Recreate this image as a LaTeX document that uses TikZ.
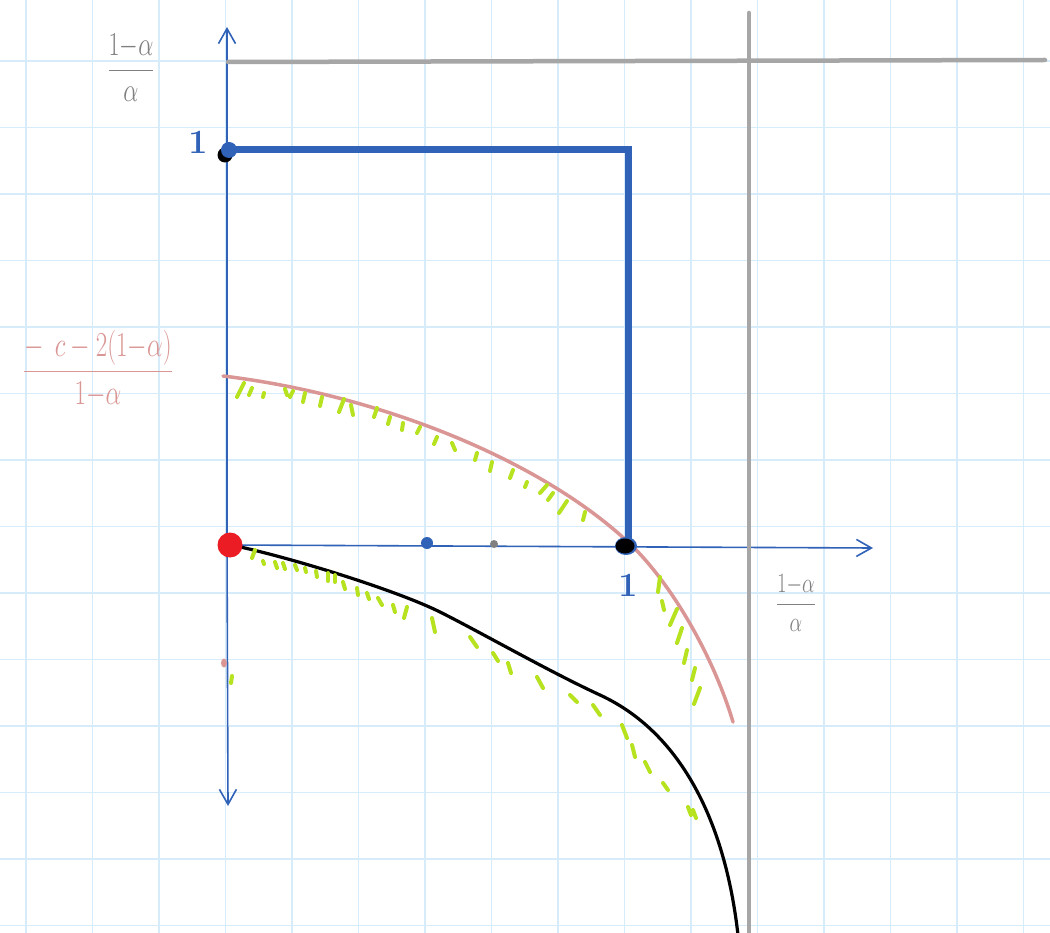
\RequirePackage{fix-cm}
\documentclass[tikz,border=0pt]{standalone}
\usepackage{amsmath}
\usepackage{graphicx}
\usetikzlibrary{arrows.meta}

\definecolor{gridblue}{RGB}{214,236,250}
\definecolor{axisblue}{RGB}{48,98,184}
\definecolor{penGray}{RGB}{166,166,166}
\definecolor{labGray}{RGB}{128,128,128}
\definecolor{penPink}{RGB}{218,150,148}
\definecolor{penLime}{RGB}{182,226,32}
\definecolor{penRed}{RGB}{236,28,36}

% tall hand-written looking label
\newcommand{\handlab}[1]{\scalebox{1}[1.4]{#1}}

\begin{document}
\begin{tikzpicture}[
  x=1pt,y=-1pt,
  >={Straight Barb[length=15pt,width=17pt]},
  gridline/.style={draw=gridblue,line width=1.3pt},
  axisline/.style={draw=axisblue,line width=1.6pt},
  boxline/.style={draw=axisblue,line width=7pt,line join=miter},
  bound/.style={draw=penGray,line width=4.5pt,line cap=round},
  pinkcurve/.style={draw=penPink,line width=3.5pt,line cap=round},
  blackcurve/.style={draw=black,line width=3.2pt},
  hatch/.style={draw=penLime,line width=4pt,line cap=round},
  glab/.style={text=labGray,inner sep=0pt},
  blab/.style={text=axisblue,inner sep=0pt,font=\fontsize{34}{36}\selectfont\bfseries}]

% --- paper: white sheet with light blue squares ---
\useasboundingbox (0,0) rectangle (1050,933);
\fill[white] (0,0) rectangle (1050,933);
\foreach \gx in {0,...,15} \draw[gridline] ({26+66.5*\gx},0) -- ++(0,933);
\foreach \gy in {0,...,13} \draw[gridline] (0,{61+66.5*\gy}) -- ++(1050,0);

% --- axes ---
\coordinate (O) at (227,545);
\coordinate (Ytop) at (227,27);
\coordinate (Ybot) at (228,806);
\coordinate (Xend) at (873,548);
\draw[axisline,->] (O) -- (Ytop);
\draw[axisline,->] (O) -- (Ybot);
\draw[axisline,->] (O) -- (Xend);

% --- gray bounds: horizontal and vertical ---
\coordinate (Hl) at (228,62);
\coordinate (Hr) at (1045,60);
\coordinate (Vt) at (749,13);
\coordinate (Vm) at (749,733);
\coordinate (Vb) at (749,935);
\draw[bound] (Hl) -- (Hr);
\draw[bound] (Vt) -- (Vm);
\draw[bound,line width=3.2pt] (Vm) -- (Vb);

% --- blue box from (0,1) over to (1,0) ---
\coordinate (Y1) at (228,150);
\coordinate (C1) at (628,150);
\coordinate (X1) at (628,545);
\draw[boxline] (Y1) -- (C1) -- (X1);

% --- pink curve through (1,0) ---
\coordinate (Ps) at (223,376);
\coordinate (Pm) at (628,542);
\coordinate (Pe) at (733,722);
\draw[pinkcurve] (Ps) .. controls (380,395) and (540,460) .. (Pm)
  .. controls (668,579) and (712,652) .. (Pe);

% --- black curve below the axis ---
\coordinate (Bs) at (236,546);
\coordinate (B1) at (440,612);
\coordinate (B2) at (600,695);
\coordinate (Be) at (738,935);
\draw[blackcurve] (Bs) .. controls (300,560) and (400,592) .. (B1)
  .. controls (480,632) and (550,672) .. (B2)
  .. controls (680,732) and (725,820) .. (Be);

% --- lime hatching ---
\foreach \a/\b/\c/\d in {
  237/397/244/383, 249/395/252/388, 263/397/264/393, 285/389/287/395,
  290/397/293/391, 303/402/305/393, 320/406/322/397, 339/412/344/399,
  351/405/353/415, 374/417/377/408, 388/424/390/417, 402/430/403/423,
  417/433/420/427, 434/444/437/437, 452/443/455/450, 475/460/477/453,
  490/471/492/462, 510/478/513/470, 525/487/527/482, 540/493/547/485,
  548/500/553/493, 559/513/567/501, 583/520/585/512}
  \draw[hatch] (\a,\b) -- (\c,\d);
\foreach \a/\b/\c/\d in {
  660/577/658/592, 662/601/664/610, 677/609/670/625, 682/628/677/643,
  687/650/684/663, 695/668/692/680, 700/688/694/704}
  \draw[hatch] (\a,\b) -- (\c,\d);
\foreach \a/\b/\c/\d in {
  255/550/252/558, 263/561/264/564, 275/562/277/568, 283/563/285/569,
  295/565/297/570, 305/568/306/572, 316/571/317/577, 328/573/328/581,
  335/575/335/582, 343/582/345/589, 357/588/358/595, 367/593/369/599,
  378/598/382/605, 393/605/395/612, 407/607/404/618, 432/618/435/632,
  470/637/477/647, 493/653/498/661, 508/663/511/673, 537/677/543/688,
  570/695/577/702, 593/705/600/715, 622/725/627/738, 632/745/635/757,
  645/762/650/772, 663/783/668/790, 688/807/691/815, 693/810/696/818,
  232/676/231/683}
  \draw[hatch] (\a,\b) -- (\c,\d);
\fill[penPink] (224,663) ellipse (3pt and 4.5pt);

% --- marked points ---
\fill[black] (225,155) circle (7.5pt);
\fill[axisblue] (229,150) circle (8pt);
\fill[axisblue] (626,546) ellipse (11pt and 9pt);
\fill[black] (625,546) ellipse (9.5pt and 7.5pt);
\fill[penRed] (O) ++(3,0) circle (12.5pt);
\fill[axisblue] (427,543) circle (6pt);
\fill[labGray] (494,544) circle (4pt);

% --- labels ---
\node[glab,font=\fontsize{24}{28}\selectfont] (ylab) at (131,68)
  {\handlab{$\dfrac{1{-}\alpha}{\alpha}$}};
\node[glab,font=\fontsize{20}{24}\selectfont] (xlab) at (796,603)
  {\handlab{$\dfrac{1{-}\alpha}{\alpha}$}};
\node[text=penPink,inner sep=0pt,font=\fontsize{25}{28}\selectfont] (clab) at (98,369)
  {\handlab{$\dfrac{-\;\,c-2(1{-}\alpha)}{1{-}\alpha}$}};
\node[blab] (one y) at (198,142) {1};
\node[blab] (one x) at (628,585) {1};

\end{tikzpicture}
\end{document}
